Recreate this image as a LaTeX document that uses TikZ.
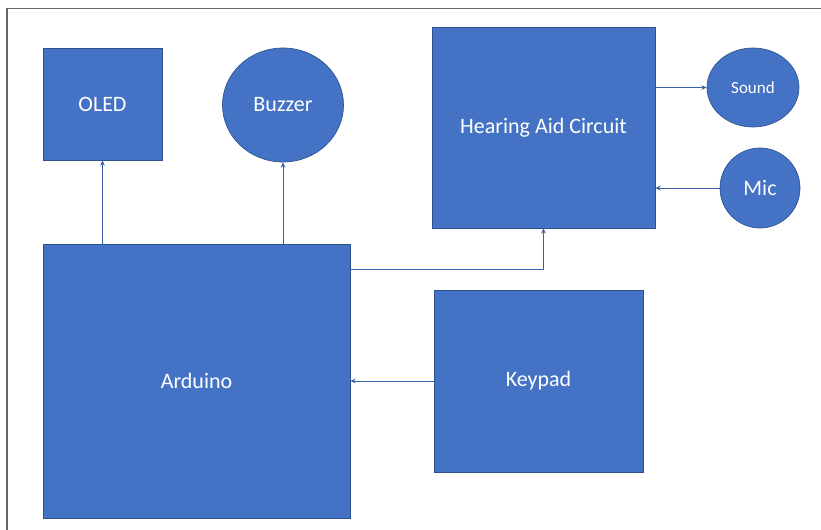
\documentclass[tikz,border=0pt]{standalone}
\usepackage{fontspec}
\setmainfont{Carlito}
\usetikzlibrary{arrows.meta,positioning,shapes.geometric}
\definecolor{officeblue}{HTML}{4472C4}
\definecolor{edgeblue}{HTML}{2F528F}
\tikzset{
  block/.style={draw=edgeblue,line width=0.5pt,fill=officeblue,text=white,inner sep=0pt,font=\fontsize{16.5}{18}\selectfont},
  roundblock/.style={block,ellipse},
  conn/.style={draw=officeblue!85!black,line width=0.7pt,-{Stealth[length=4pt,width=3.5pt]}}
}
\begin{document}
\begin{tikzpicture}[x=0.75pt,y=-0.75pt]
\useasboundingbox (0,0) rectangle (821,530);
\draw[gray!80!black,line width=1.2pt] (7,530) -- (7,8.5) -- (821,8.5);
% blocks
\node[block,minimum width=119*0.75pt,minimum height=112*0.75pt] (oled) at (102.5,104) {OLED};
\node[roundblock,minimum width=121*0.75pt,minimum height=114*0.75pt] (buzzer) at (283,105) {Buzzer};
\node[block,minimum width=223*0.75pt,minimum height=201*0.75pt] (hac) at (543.5,127.5) {Hearing Aid Circuit};
\node[roundblock,minimum width=92*0.75pt,minimum height=79*0.75pt,font=\fontsize{12.75}{14}\selectfont] (sound) at (753,87.5) {Sound};
\node[roundblock,minimum width=80*0.75pt,minimum height=80*0.75pt] (mic) at (760,188) {Mic};
\node[block,minimum width=307*0.75pt,minimum height=274*0.75pt] (arduino) at (196.5,381) {Arduino};
\node[block,minimum width=209*0.75pt,minimum height=182*0.75pt] (keypad) at (538.5,381) {Keypad};
% connectors
\draw[conn] (arduino.north -| oled.south) -- (oled.south);
\draw[conn] (arduino.north -| buzzer.south) -- (buzzer.south);
\draw[conn] ([yshift=-26*0.75pt]arduino.north east) -| (hac.south);
\draw[conn] (keypad.west) -- (keypad.west -| arduino.east);
\draw[conn] (sound.west -| hac.east) -- (sound.west);
\draw[conn] (mic.west) -- (mic.west -| hac.east);
\end{tikzpicture}
\end{document}
